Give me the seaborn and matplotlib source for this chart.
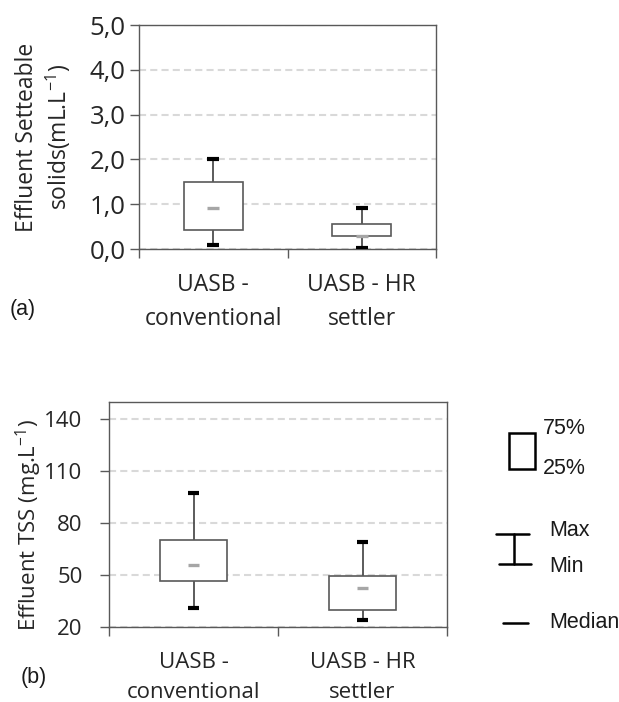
import numpy as np
import pandas as pd
import matplotlib
matplotlib.use("Agg")
import matplotlib.pyplot as plt
import seaborn as sns
from matplotlib.patches import Rectangle
from matplotlib.lines import Line2D

# ---------------- data (five-number summaries) -------------
reactors = ["UASB -\nconventional", "UASB - HR\nsettler"]
stat_names = ["min", "q1", "median", "q3", "max"]

ss_conventional = [0.10, 0.43, 0.91, 1.49, 2.00]
ss_hr_settler = [0.02, 0.30, 0.30, 0.55, 0.91]

tss_conventional = [31.0, 46.5, 56.0, 70.5, 97.5]
tss_hr_settler = [24.0, 30.0, 42.5, 49.5, 69.0]

ss_ticks = [0, 1, 2, 3, 4, 5]
ss_ticklabels = ["0,0", "1,0", "2,0", "3,0", "4,0", "5,0"]
tss_ticks = [20, 50, 80, 110, 140]

# ---------------- style ---------------------------------------------------------
sns.set_theme(style="white")
plt.rcParams["font.family"] = ["Open Sans", "DejaVu Sans"]
plt.rcParams["mathtext.fontset"] = "custom"
plt.rcParams["mathtext.rm"] = "Open Sans"
plt.rcParams["mathtext.it"] = "Open Sans"
plt.rcParams["text.color"] = "#262626"

SPINE = "#595959"
GRID = "#d9d9d9"

W, H = 619, 702
fig = plt.figure(figsize=(W / 100, H / 100), dpi=100)


def px_axes(l, t, r, b):
    return fig.add_axes([l / W, 1 - b / H, (r - l) / W, (b - t) / H])


def make_df(a, b):
    return pd.DataFrame({
        "reactor": [reactors[0]] * len(a) + [reactors[1]] * len(b),
        "value": list(a) + list(b),
    })


def draw_panel(ax, df, ylim, yticks, yticklabels, ylabel, cap_w, fs, ytick_fs,
               xls, xpad, ypad):
    sns.boxplot(data=df, x="reactor", y="value", order=reactors, whis=(0, 100),
                width=0.4, color="white", linecolor=SPINE, linewidth=1.2,
                fill=True, ax=ax)
    cont = ax.containers[0]
    for box in cont.boxes:
        box.set_facecolor("white")
        box.set_edgecolor(SPINE)
        box.set_linewidth(1.2)
        box.set_zorder(3)
    for wl in cont.whiskers:
        wl.set_color("#404040")
        wl.set_linewidth(1.2)
        wl.set_zorder(2.5)
    for cap in cont.caps:
        xd = np.asarray(cap.get_xdata(), dtype=float)
        c = xd.mean()
        cap.set_xdata([c - cap_w / 2, c + cap_w / 2])
        cap.set_color("black")
        cap.set_linewidth(3.0)
        cap.set_solid_capstyle("butt")
        cap.set_zorder(4)
    for med in cont.medians:
        xd = np.asarray(med.get_xdata(), dtype=float)
        c = xd.mean()
        med.set_xdata([c - cap_w / 2, c + cap_w / 2])
        med.set_color("#a6a6a6")
        med.set_linewidth(2.4)
        med.set_solid_capstyle("butt")
        med.set_zorder(4)

    ax.set_xlim(-0.5, 1.5)
    ax.set_ylim(*ylim)
    ax.set_yticks(yticks)
    ax.set_yticklabels(yticklabels, fontsize=ytick_fs)
    ax.set_xticks([0, 1])
    ax.set_xticklabels(reactors, fontsize=fs, linespacing=xls)
    ax.set_xticks([-0.5, 0.5, 1.5], minor=True)
    ax.tick_params(axis="x", which="major", length=0, pad=xpad)
    ax.tick_params(axis="x", which="minor", length=6.5, width=1, color=SPINE,
                   direction="out", bottom=True)
    ax.tick_params(axis="y", which="major", length=6.5, width=1, color=SPINE,
                   direction="out", left=True, pad=ypad)
    ax.set_xlabel("")
    ax.set_ylabel(ylabel, fontsize=fs, linespacing=1.2)
    for s in ax.spines.values():
        s.set_visible(True)
        s.set_color(SPINE)
        s.set_linewidth(1.0)
    ax.yaxis.grid(True, color=GRID, linestyle=(0, (3.4, 2.0)), linewidth=1.5)
    ax.xaxis.grid(False)
    ax.set_axisbelow(True)
    ax.set_facecolor("white")


# ---------------- panel (a) -----------------------------------------------------
ax1 = px_axes(139, 25, 436, 249)
draw_panel(ax1, make_df(ss_conventional, ss_hr_settler), (0, 5), ss_ticks,
           ss_ticklabels, "Effluent Setteable\nsolids(mL.L$^{\\mathregular{-1}}$)",
           cap_w=0.08, fs=16.5, ytick_fs=18.5, xls=1.52, xpad=17.5, ypad=3)
ax1.yaxis.set_label_coords(-0.222, 0.5)

# ---------------- panel (b) -----------------------------------------------------
ax2 = px_axes(109, 402, 447, 627)
draw_panel(ax2, make_df(tss_conventional, tss_hr_settler), (20, 150), tss_ticks,
           [str(t) for t in tss_ticks], "Effluent TSS (mg.L$^{\\mathregular{-1}}$)",
           cap_w=0.07, fs=16, ytick_fs=16, xls=1.55, xpad=18, ypad=12.5)
ax2.yaxis.set_label_coords(-0.191, 0.453)

# ---------------- legend key & panel letters ------------------------------------
ov = fig.add_axes([0, 0, 1, 1], facecolor="none")
ov.set_xlim(0, W)
ov.set_ylim(H, 0)
ov.axis("off")

LFONT = ["Liberation Sans", "DejaVu Sans"]
LFS = 15.5
ov.add_patch(Rectangle((509, 433), 26, 36, fill=False, edgecolor="black", lw=1.8))
ov.add_line(Line2D([496, 529], [534, 534], color="black", lw=1.8))
ov.add_line(Line2D([499, 531], [564, 564], color="black", lw=1.8))
ov.add_line(Line2D([513.5, 513.5], [534, 564], color="black", lw=1.8))
ov.add_line(Line2D([503, 528], [623, 623], color="black", lw=1.8))

ov.text(543, 429, "75%", family=LFONT, fontsize=LFS, ha="left", va="center", color="#1a1a1a")
ov.text(543, 469, "25%", family=LFONT, fontsize=LFS, ha="left", va="center", color="#1a1a1a")
ov.text(549, 530, "Max", family=LFONT, fontsize=LFS, ha="left", va="center", color="#1a1a1a")
ov.text(549, 567, "Min", family=LFONT, fontsize=LFS, ha="left", va="center", color="#1a1a1a")
ov.text(549, 622, "Median", family=LFONT, fontsize=LFS, ha="left", va="center", color="#1a1a1a")

ov.text(23, 309, "(a)", family=LFONT, fontsize=LFS, ha="center", va="center", color="#1a1a1a")
ov.text(34, 677, "(b)", family=LFONT, fontsize=LFS, ha="center", va="center", color="#1a1a1a")

fig.savefig("out.png", dpi=100, facecolor="white")
